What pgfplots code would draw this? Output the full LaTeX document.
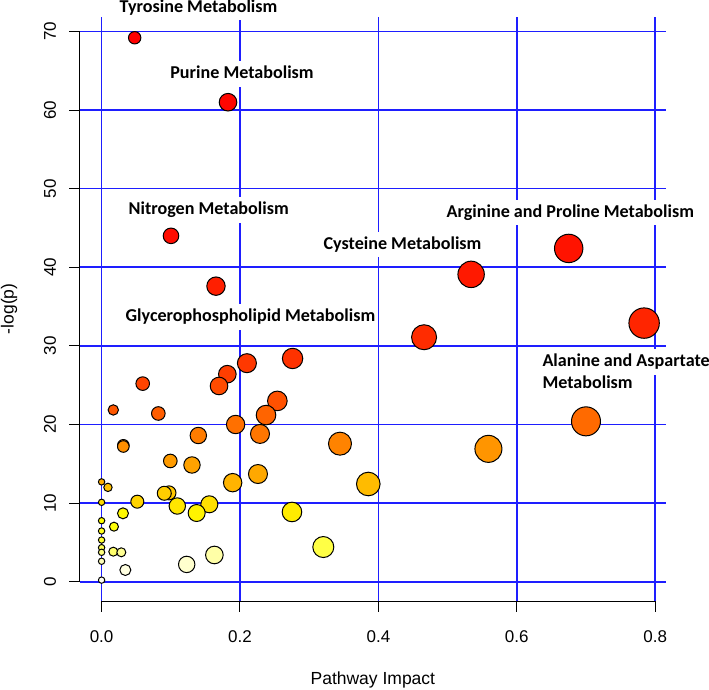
\documentclass[border=0pt]{standalone}
\usepackage{fontspec}
\setmainfont{Liberation Sans}
\newfontfamily\lblfont{Carlito}
\usepackage{pgfplots}
\pgfplotsset{compat=1.18}
\definecolor{gridblue}{RGB}{30,30,255}
\begin{document}
\begin{tikzpicture}
\begin{axis}[
  at={(0pt,0pt)}, anchor=south west,
  scale only axis, width=585.7pt, height=584.3pt,
  xmin=-0.03121, xmax=0.8152, ymin=-2.455, ymax=71.88,
  axis lines*=left, axis line style={draw=none},
  xtick={0,0.2,0.4,0.6,0.8}, xticklabels={0.0,0.2,0.4,0.6,0.8},
  ytick={0,10,20,30,40,50,60,70}, yticklabels={0,10,20,30,40,50,60,70},
  major tick length=0pt,
  grid=major, major grid style={gridblue, line width=1.6pt},
  tick label style={font=\fontsize{17}{20}\selectfont},
  xticklabel style={anchor=center, yshift=-36pt},
  yticklabel style={xshift=-30pt, rotate=90, anchor=center},
  xlabel={Pathway Impact}, ylabel={-log(p)},
  label style={font=\fontsize{17.5}{21}\selectfont},
  xlabel style={at={(axis description cs:0.5,0)}, anchor=center, yshift=-79pt},
  ylabel style={at={(axis description cs:-0.1212,0.5)}, anchor=center},
  colormap={heat}{rgb255(0pt)=(255,0,0); rgb255(41pt)=(255,255,0); rgb255(42pt)=(255,255,10); rgb255(54pt)=(255,255,245)},
  point meta min=0, point meta max=54,
  clip=false,
]
\draw[black, line width=1pt] (axis cs:0,-2.455) -- (axis cs:0.8,-2.455);
\draw[black, line width=1pt] (axis cs:-0.03121,0) -- (axis cs:-0.03121,70);
\pgfplotsinvokeforeach{0,0.2,0.4,0.6,0.8}{\draw[black, line width=1pt] (axis cs:#1,-2.455) -- ++(0pt,-11pt);}
\pgfplotsinvokeforeach{0,10,20,30,40,50,60,70}{\draw[black, line width=1pt] (axis cs:-0.03121,#1) -- ++(-11pt,0pt);}
\addplot[scatter, only marks, mark=*, scatter src=explicit,
  scatter/use mapped color={draw=black, fill=mapped color},
  visualization depends on={\thisrow{r} \as \rad},
  scatter/@pre marker code/.append style={/tikz/mark size=\rad},
  mark options={line width=1pt}]
  table[x=x, y=y, meta=c] {
x y r c
0.0478 69.2 6.2 0
0.1827 61.0 8.8 1
0.1003 44.0 7.8 2
0.675 42.4 14.2 3
0.534 39.1 13.2 4
0.1653 37.6 9.2 5
0.784 32.9 15.2 6
0.466 31.1 12.5 7
0.276 28.4 10.2 8
0.210 27.8 9.5 9
0.1817 26.4 8.8 10
0.0594 25.2 6.8 11
0.1697 24.9 8.8 12
0.254 23.0 9.8 13
0.0169 21.85 5.2 14
0.082 21.4 6.8 15
0.2376 21.2 9.8 16
0.700 20.4 14.5 17
0.1937 20.0 9.2 18
0.2289 18.8 9.5 19
0.1398 18.6 8.2 20
0.3445 17.56 11.5 21
0.0314 17.35 5.8 22
0.0314 17.2 5.8 23
0.559 16.9 13.5 24
0.0993 15.36 6.8 25
0.1306 14.85 8.2 26
0.226 13.7 9.5 27
0.0 12.7 3.2 28
0.1894 12.6 9.2 29
0.3854 12.43 11.8 30
0.0092 12.0 4.2 31
0.0974 11.3 7.0 32
0.0906 11.25 7.0 33
0.0516 10.18 6.5 34
0.0 10.1 3.2 35
0.1557 9.85 8.5 36
0.1094 9.63 8.2 37
0.2751 8.87 9.8 38
0.1374 8.74 8.5 39
0.0309 8.7 5.5 40
0.0 7.76 3.2 41
0.0179 7.0 4.5 42
0.0 6.45 3.2 43
0.0 5.3 3.2 44
0.3204 4.41 10.5 45
0.0 4.33 3.2 46
0.0169 3.82 4.5 47
0.0 3.74 3.2 48
0.0285 3.74 4.5 49
0.163 3.4 8.8 50
0.0 2.6 3.2 51
0.123 2.2 8.2 52
0.0343 1.49 5.5 53
0.0 0.2 3.2 54
};
\end{axis}
\begin{scope}[every node/.style={font=\lblfont\bfseries\fontsize{18.1}{21}\selectfont, fill=white, inner xsep=3pt, inner ysep=5pt, text height=12.5pt, text depth=3pt}]
\node[anchor=base] at (118.5pt,588.7pt) {Tyrosine Metabolism};
\node[anchor=base] at (162pt,522pt) {Purine Metabolism};
\node[anchor=base] at (128.7pt,386pt) {Nitrogen Metabolism};
\node[anchor=base] at (490.3pt,383.7pt) {Arginine and Proline Metabolism};
\node[anchor=base] at (322.5pt,351.7pt) {Cysteine Metabolism};
\node[anchor=base] at (170.4pt,279.3pt) {Glycerophospholipid Metabolism};
\node[anchor=base west] at (459.3pt,234.3pt) {Alanine and Aspartate};
\node[anchor=base west] at (459.3pt,212.7pt) {Metabolism};
\end{scope}
\pgfresetboundingbox
\path (-80pt,-89pt) rectangle (629pt,601pt);
\end{tikzpicture}
\end{document}
